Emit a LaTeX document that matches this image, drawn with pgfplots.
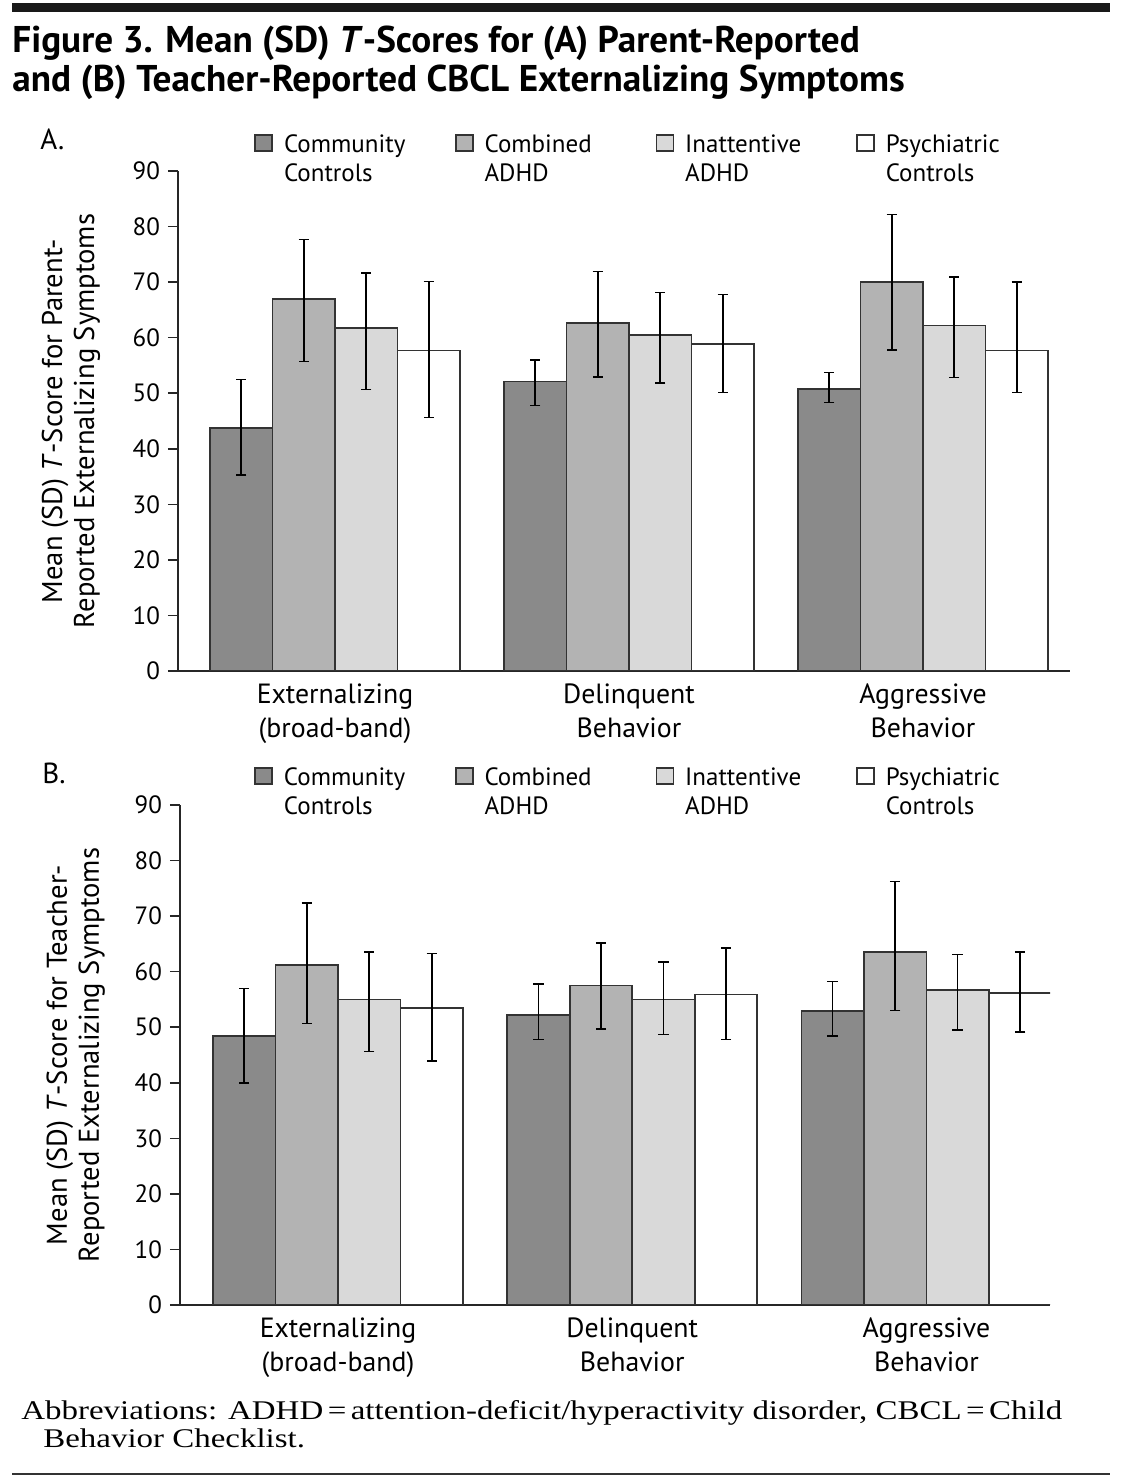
\documentclass[border=0pt]{standalone}
\usepackage{fontspec}
\setmainfont{PT Sans}
\newfontfamily\notefont[FakeStretch=1.22]{Liberation Serif}
\usepackage{pgfplots}
\pgfplotsset{compat=1.18}

\definecolor{ccol}{HTML}{8A8A8A}
\definecolor{acol}{HTML}{B3B3B3}
\definecolor{icol}{HTML}{D9D9D9}

\pgfplotsset{
  panel/.style={
    scale only axis,
    height=250pt,
    ybar=0pt, bar width=31.25pt,
    ymin=0, ymax=90, ytick={0,10,...,90},
    xtick={0,1,2},
    xticklabels={{Externalizing\\(broad-band)},{Delinquent\\Behavior},{Aggressive\\Behavior}},
    axis x line*=bottom, axis y line*=left,
    axis line style={-, line width=0.9pt, black!85},
    tick align=outside, major tick length=5pt,
    ytick style={line width=0.8pt, black!85},
    xtick style={draw=none},
    /pgf/number format/assume math mode=true,
    yticklabel style={font=\fontsize{12.5}{15}\selectfont, xshift=-0.5pt},
    xticklabel style={align=center, font=\fontsize{13.9}{17}\selectfont, yshift=2pt},
    every axis y label/.style={at={(axis description cs:-0.12,0.5)}, rotate=90, anchor=center,
      align=center, font=\fontsize{14.3}{16}\selectfont},
    legend columns=4,
    legend style={draw=none, fill=none, inner sep=0pt, anchor=north west,
      font=\fontsize{12.5}{14.5}\selectfont,
      cells={anchor=base west, inner sep=0pt},
      /tikz/every odd column/.append style={column sep=3.5pt}},
    legend image code/.code={\draw[##1, line width=0.8pt] (0pt,0.6pt) rectangle (8.5pt,8.6pt);},
    every axis plot/.append style={draw=black!80, line width=0.9pt},
    error bars/y dir=both, error bars/y explicit,
    error bars/error bar style={line width=0.8pt, black},
    error bars/error mark options={rotate=90, mark size=2.6pt, line width=0.8pt, black},
  },
}

\begin{document}
\begin{tikzpicture}
\path[use as bounding box] (0,0) rectangle (560.5pt,739.5pt);

% rules, title, note
\draw[line width=4.2pt, black!90] (6pt,735.75pt) -- (555pt,735.75pt);
\draw[line width=1.2pt, black!80] (6pt,2.5pt) -- (555pt,2.5pt);
\node[anchor=base west, align=left, inner sep=0pt,
  font=\bfseries\fontsize{18.6}{19.5}\selectfont] at (6pt,693.5pt)
  {Figure 3. Mean (SD) \textit{T}-Scores for (A) Parent-Reported\\
   and (B) Teacher-Reported CBCL Externalizing Symptoms};
\node[anchor=base west, inner sep=0pt, font=\fontsize{14.5}{16}\selectfont] at (20pt,664.5pt) {A.};
\node[anchor=base west, inner sep=0pt, font=\fontsize{14.5}{16}\selectfont] at (21pt,347.5pt) {B.};
\node[anchor=base west, align=left, inner sep=0pt,
  font=\notefont\fontsize{13.5}{14}\selectfont] at (10.5pt,16pt)
  {Abbreviations: ADHD\,=\,attention-deficit/hyperactivity disorder, CBCL\,=\,Child\\
   \hspace*{11pt}Behavior Checklist.};

% Panel A: parent-reported
\begin{axis}[panel, at={(89pt,404pt)}, anchor=south west,
  width=446pt, xmin=-0.534, xmax=2.5,
  ylabel={Mean (SD) \textit{T}-Score for Parent-\\Reported Externalizing Symptoms},
  legend style={at={(0.0852,1.082)}}]
\addplot[fill=ccol] coordinates {(0,43.7) += (0,8.8) -= (0,8.4) (1,52.1) += (0,3.9) -= (0,4.3) (2,50.7) += (0,3.0) -= (0,2.4)};
\addlegendentry{\parbox[t]{83.5pt}{Community\\Controls}}
\addplot[fill=acol] coordinates {(0,66.9) += (0,10.8) -= (0,11.2) (1,62.6) += (0,9.3) -= (0,9.7) (2,70.0) += (0,12.2) -= (0,12.2)};
\addlegendentry{\parbox[t]{83.5pt}{Combined\\ADHD}}
\addplot[fill=icol] coordinates {(0,61.8) += (0,9.8) -= (0,11.1) (1,60.5) += (0,7.6) -= (0,8.7) (2,62.2) += (0,8.7) -= (0,9.4)};
\addlegendentry{\parbox[t]{83.5pt}{Inattentive\\ADHD}}
\addplot[fill=white] coordinates {(0,57.7) += (0,12.4) -= (0,12.1) (1,58.8) += (0,9.0) -= (0,8.7) (2,57.7) += (0,12.3) -= (0,7.6)};
\addlegendentry{\parbox[t]{83.5pt}{Psychiatric\\Controls}}
\end{axis}

% Panel B: teacher-reported
\begin{axis}[panel, at={(90pt,87pt)}, anchor=south west,
  width=435pt, xmin=-0.537, xmax=2.42,
  ylabel={Mean (SD) \textit{T}-Score for Teacher-\\Reported Externalizing Symptoms},
  legend style={at={(0.0850,1.084)}}]
\addplot[fill=ccol] coordinates {(0,48.4) += (0,8.6) -= (0,8.4) (1,52.2) += (0,5.6) -= (0,4.4) (2,52.9) += (0,5.3) -= (0,4.5)};
\addlegendentry{\parbox[t]{83.5pt}{Community\\Controls}}
\addplot[fill=acol] coordinates {(0,61.2) += (0,11.2) -= (0,10.5) (1,57.5) += (0,7.7) -= (0,7.8) (2,63.5) += (0,12.7) -= (0,10.5)};
\addlegendentry{\parbox[t]{83.5pt}{Combined\\ADHD}}
\addplot[fill=icol] coordinates {(0,55.0) += (0,8.5) -= (0,9.4) (1,55.0) += (0,6.7) -= (0,6.3) (2,56.7) += (0,6.4) -= (0,7.2)};
\addlegendentry{\parbox[t]{83.5pt}{Inattentive\\ADHD}}
\addplot[fill=white] coordinates {(0,53.4) += (0,9.9) -= (0,9.5) (1,55.9) += (0,8.4) -= (0,8.1) (2,56.2) += (0,7.3) -= (0,7.1)};
\addlegendentry{\parbox[t]{83.5pt}{Psychiatric\\Controls}}
\end{axis}
\end{tikzpicture}
\end{document}
